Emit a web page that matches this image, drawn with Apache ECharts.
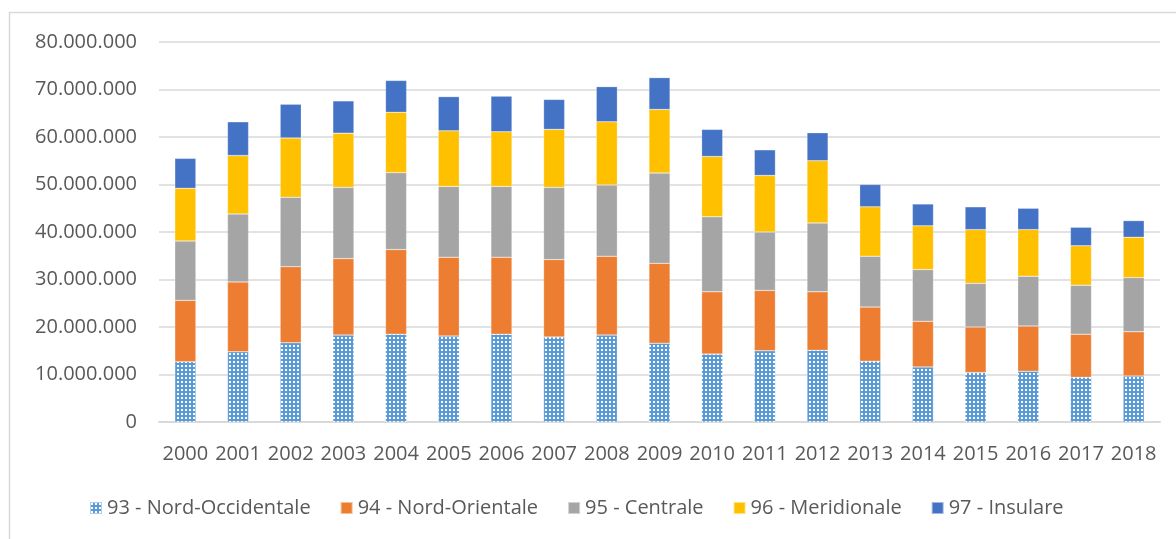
<!DOCTYPE html>
<html>
<head>
<meta charset="utf-8">
<script src="https://cdn.jsdelivr.net/npm/echarts@6/dist/echarts.min.js"></script>
<style>
  html, body { margin: 0; padding: 0; background: #fff; }
  #chart { width: 1176px; height: 539px; }
</style>
</head>
<body>
<div id="chart"></div>
<script>
const years = ['2000', '2001', '2002', '2003', '2004', '2005', '2006', '2007', '2008', '2009',
  '2010', '2011', '2012', '2013', '2014', '2015', '2016', '2017', '2018'];

const seriesNames = ['93 - Nord-Occidentale', '94 - Nord-Orientale', '95 - Centrale', '96 - Meridionale', '97 - Insulare'];

const nordOccidentale = [12700000, 14800000, 16700000, 18300000, 18500000, 18100000, 18500000, 17900000, 18300000, 16600000,
  14300000, 15000000, 15100000, 12800000, 11600000, 10400000, 10700000, 9400000, 9700000];
const nordOrientale = [12900000, 14700000, 16000000, 16100000, 17800000, 16600000, 16200000, 16300000, 16600000, 16800000,
  13100000, 12700000, 12300000, 11400000, 9600000, 9600000, 9500000, 9100000, 9300000];
const centrale = [12500000, 14300000, 14600000, 15000000, 16200000, 14900000, 14900000, 15200000, 15000000, 19000000,
  15800000, 12300000, 14500000, 10700000, 10900000, 9200000, 10500000, 10300000, 11400000];
const meridionale = [11100000, 12300000, 12500000, 11400000, 12700000, 11700000, 11500000, 12200000, 13300000, 13400000,
  12700000, 11900000, 13100000, 10400000, 9200000, 11300000, 9800000, 8300000, 8500000];
const insulare = [6300000, 7100000, 7100000, 6800000, 6700000, 7200000, 7500000, 6300000, 7400000, 6700000,
  5700000, 5400000, 5900000, 4700000, 4600000, 4800000, 4500000, 3900000, 3500000];

const yTicks = [0, 10000000, 20000000, 30000000, 40000000, 50000000, 60000000, 70000000, 80000000];

// dotted fill for the first series
function dotPattern() {
  const c = document.createElement('canvas');
  c.width = 4;
  c.height = 4;
  const ctx = c.getContext('2d');
  ctx.fillStyle = '#5B9BD5';
  ctx.fillRect(0, 0, 4, 4);
  ctx.fillStyle = '#ffffff';
  ctx.fillRect(1, 1, 2, 2);
  return { image: c, repeat: 'repeat' };
}

function fmt(v) {
  return String(v).replace(/\B(?=(\d{3})+(?!\d))/g, '.');
}

const fills = [dotPattern(), '#ED7D31', '#A5A5A5', '#FFC000', '#4472C4'];
const values = [nordOccidentale, nordOrientale, centrale, meridionale, insulare];

const series = seriesNames.map((name, i) => ({
  name: name,
  type: 'bar',
  stack: 'total',
  barWidth: '40%',
  data: values[i],
  itemStyle: { color: fills[i], borderColor: 'rgba(255,255,255,0.5)', borderWidth: 0.5 },
  emphasis: { disabled: true }
}));

const myChart = echarts.init(document.getElementById('chart'));
const option = {
  animation: false,
  textStyle: { fontFamily: 'Open Sans' },
  graphic: [{
    type: 'rect',
    shape: { x: 9.5, y: 12.5, width: 1300, height: 700 },
    style: { fill: 'none', stroke: '#d9d9d9', lineWidth: 1.5 },
    silent: true
  }],
  grid: { left: 159, right: 16, top: 42, bottom: 117 },
  legend: {
    left: 84,
    top: 493,
    itemWidth: 12,
    itemHeight: 12,
    itemGap: 29,
    icon: 'rect',
    textStyle: { color: '#595959', fontSize: 20, fontFamily: 'Open Sans' },
    data: seriesNames
  },
  xAxis: {
    type: 'category',
    data: years,
    axisLine: { lineStyle: { color: '#d9d9d9', width: 2 } },
    axisTick: { show: false },
    axisLabel: { color: '#595959', fontSize: 20, margin: 22, interval: 0 }
  },
  yAxis: {
    type: 'value',
    min: yTicks[0],
    max: yTicks[yTicks.length - 1],
    interval: yTicks[1] - yTicks[0],
    axisLine: { show: false },
    axisTick: { show: false },
    splitLine: { lineStyle: { color: '#d9d9d9', width: 1.5 } },
    axisLabel: { color: '#595959', fontSize: 20, margin: 22, formatter: fmt }
  },
  series: series
};
myChart.setOption(option, true);
</script>
</body>
</html>
